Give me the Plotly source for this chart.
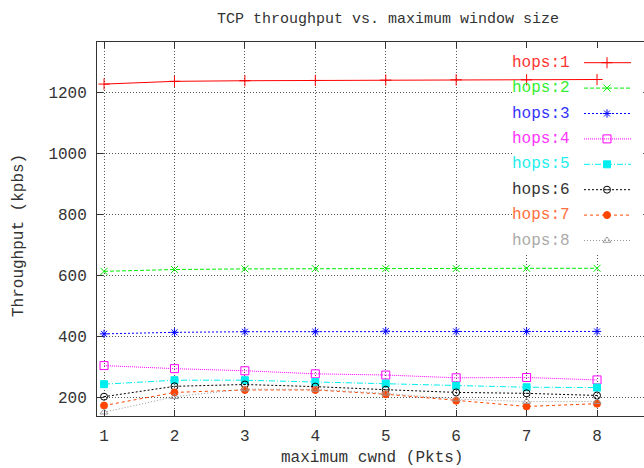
import plotly.graph_objects as go

# ---- data ----
cwnd = [1, 2, 3, 4, 5, 6, 7, 8]
series_names = ["hops:1", "hops:2", "hops:3", "hops:4", "hops:5", "hops:6", "hops:7", "hops:8"]
hops1 = [1226, 1235, 1237, 1238, 1239, 1240, 1240, 1241]
hops2 = [612, 618, 620, 621, 621, 621, 622, 622]
hops3 = [407, 412, 414, 414, 416, 415, 415, 415]
hops4 = [303, 293, 286, 276, 272, 263, 264, 256]
hops5 = [242, 255, 255, 249, 244, 237, 232, 231]
hops6 = [201, 235, 241, 234, 224, 215, 212, 205]
hops7 = [172, 215, 223, 223, 209, 188, 169, 178]
hops8 = [150, 201, 226, 225, 212, 193, 185, 185]
y_ticks = [200, 400, 600, 800, 1000, 1200]

# ---- styles ----
colors = ["#ff0000", "#00ee00", "#0000ff", "#ff00ff", "#00eeee", "#000000", "#ff4500", "#999999"]
text_colors = ["#ff3333", "#33ee33", "#3333ff", "#ff33ff", "#22eeee", "#333333", "#ff7040", "#aaaaaa"]
dashes = ["solid", "4px,2px", "2px,2px", "1px,1px", "6px,2px,1px,2px", "2px,2px", "3px,3px", "1px,2px"]
symbols = ["cross-thin", "x-thin", "asterisk", "square-open", "square", "circle-open-dot", "circle", "triangle-up-open"]
sizes = [8, 7, 7, 8, 7, 7, 7, 7]
data = [hops1, hops2, hops3, hops4, hops5, hops6, hops7, hops8]

W, H = 644, 468
L, R, T, B = 97, 644, 42, 416
XR = [0.9, 8.667]
YR = [137.7, 1364]
FONT = "Liberation Mono"
TXT = "#333333"

def px(x):
    return (x - L) / (R - L)

def py(y):
    return (B - y) / (B - T)

def dx(x):
    return XR[0] + px(x) * (XR[1] - XR[0])

def dy(y):
    return YR[0] + py(y) * (YR[1] - YR[0])

fig = go.Figure()

for name, ys, c, d, s, sz in zip(series_names, data, colors, dashes, symbols, sizes):
    fig.add_trace(go.Scatter(
        x=cwnd, y=ys, mode="lines+markers", name=name, showlegend=False,
        line=dict(color=c, width=1, dash=d),
        marker=dict(symbol=s, size=sz, color=c, line=dict(color=c, width=1)),
        cliponaxis=False,
    ))

# manual gnuplot-style key (text left, sample right) on a pixel overlay axis
key_y0, key_dy = 62.7, 25.4
annotations = []
for i, (name, c, tc, d, s, sz) in enumerate(zip(series_names, colors, text_colors, dashes, symbols, sizes)):
    yk = key_y0 + i * key_dy
    fig.add_trace(go.Scatter(
        x=[584, 631], y=[yk, yk], xaxis="x2", yaxis="y2", mode="lines",
        line=dict(color=c, width=1, dash=d), showlegend=False, hoverinfo="skip"))
    fig.add_trace(go.Scatter(
        x=[607], y=[yk], xaxis="x2", yaxis="y2", mode="markers",
        marker=dict(symbol=s, size=sz, color=c, line=dict(color=c, width=1)),
        showlegend=False, hoverinfo="skip"))
    annotations.append(dict(
        x=px(572), y=py(yk), xref="paper", yref="paper", text=name, showarrow=False,
        xanchor="right", yanchor="middle", font=dict(family=FONT, size=16, color=tc)))

annotations.append(dict(
    x=px(372), y=py(458), xref="paper", yref="paper", text="maximum cwnd (Pkts)",
    showarrow=False, xanchor="center", yanchor="middle", font=dict(family=FONT, size=16, color=TXT)))
annotations.append(dict(
    x=px(19), y=py(236), xref="paper", yref="paper", text="Throughput (kpbs)",
    showarrow=False, xanchor="center", yanchor="middle", textangle=-90,
    font=dict(family=FONT, size=16, color=TXT)))

fig.update_layout(
    width=W, height=H,
    margin=dict(l=L, r=W - R, t=T, b=H - B, autoexpand=False),
    plot_bgcolor="white", paper_bgcolor="white",
    title=dict(text="TCP throughput vs. maximum window size", x=388 / W, xref="container",
               xanchor="center", y=1 - 18 / H, yref="container", yanchor="middle",
               font=dict(family=FONT, size=15, color=TXT)),
    xaxis=dict(range=XR, tickvals=cwnd, ticks="inside", ticklen=6, tickcolor=TXT,
               showline=True, linecolor=TXT, linewidth=1, mirror="ticks", automargin=False,
               showgrid=True, gridcolor="#555555", griddash="1px,2px", gridwidth=1,
               zeroline=False, tickfont=dict(family=FONT, size=16, color=TXT), ticklabelstandoff=5),
    yaxis=dict(range=YR, tickvals=y_ticks, ticks="inside", ticklen=6, tickcolor=TXT,
               showline=True, linecolor=TXT, linewidth=1, mirror=False, automargin=False,
               showgrid=True, gridcolor="#555555", griddash="1px,2px", gridwidth=1,
               zeroline=False, tickfont=dict(family=FONT, size=16, color=TXT), ticklabelstandoff=6),
    xaxis2=dict(overlaying="x", range=[L, R], visible=False, anchor="y2", automargin=False),
    yaxis2=dict(overlaying="y", range=[B, T], visible=False, anchor="x2", automargin=False),
    shapes=[dict(type="rect", xref="x", yref="y", x0=dx(512), x1=dx(642), y0=dy(253), y1=dy(43),
                 fillcolor="white", line=dict(width=0), layer="between")],
    annotations=annotations,
    showlegend=False,
)

fig.write_html("out.html", config={"displayModeBar": False},
               post_script="document.body.style.margin='0px';")
